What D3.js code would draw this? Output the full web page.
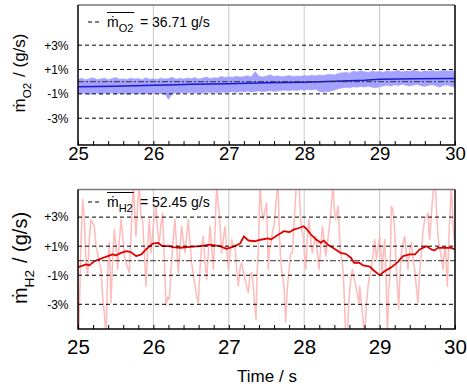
<!DOCTYPE html>
<html>
<head>
<meta charset="utf-8">
<script src="https://cdn.jsdelivr.net/npm/d3@7"></script>
<style>
  body { margin: 0; background: #fff; }
  svg { display: block; font-family: "Liberation Sans", Arial, "DejaVu Sans", sans-serif; }
</style>
</head>
<body>
<div id="chart"></div>
<script>
var width = 467, height = 388;
var left = 78, right = 455;

// axis stuff
var timeRange = [25, 30];
var gridTimes = [26, 27, 28, 29];
var pctLines = [3, 1, -1, -3];

// means shown in the legends (g/s)
var o2Mean = "36.71";
var h2Mean = "52.45";

// O2: smoothed signal (% deviation from mean)
var o2SmoothTime = [25, 25.5, 26, 26.2, 26.5, 27, 27.5, 28, 28.2, 28.5, 28.8, 29, 29.5, 30];
var o2SmoothPct  = [-0.42, -0.38, -0.3, -0.28, -0.22, -0.17, -0.08, -0.04, 0, 0.06, 0.12, 0.2, 0.24, 0.26];

// O2: raw signal envelope, one value every 0.05 s from 25 to 30
var o2BandStep = 0.05;
var o2BandUpper = [
  0.20, 0.28, 0.15, 0.25, 0.32, 0.18, 0.22, 0.30, 0.16, 0.26, 0.35, 0.20, 0.24, 0.18, 0.30, 0.22, 0.27, 0.17, 0.33, 0.21,
  0.24, 0.19, 0.30, 0.22, 0.26, 0.36, 0.20, 0.28, 0.23, 0.31, 0.25, 0.34, 0.22, 0.29, 0.38, 0.27, 0.33, 0.30, 0.42, 0.35,
  0.40, 0.36, 0.45, 0.38, 0.42, 0.48, 0.40, 0.84, 0.44, 0.39, 0.46, 0.57, 0.42, 0.48, 0.40, 0.45, 0.50, 0.43, 0.47, 0.44,
  0.50, 0.46, 0.53, 0.48, 0.55, 0.50, 0.58, 0.62, 0.55, 0.68, 0.72, 0.78, 0.70, 0.85, 0.80, 0.90, 0.82, 0.76, 0.88, 0.80,
  0.84, 0.78, 0.90, 0.82, 0.86, 0.92, 0.80, 0.88, 0.84, 0.94, 0.86, 0.80, 0.90, 0.85, 0.92, 0.83, 0.88, 0.95, 0.87, 0.90,
  0.86
];
var o2BandLower = [
  -0.95, -1.02, -0.90, -1.08, -0.97, -0.92, -1.05, -0.94, -1.00, -0.91, -1.03, -0.96, -0.93, -1.06, -0.98, -0.92, -1.01, -0.95, -0.99, -0.93,
  -0.97, -0.91, -1.00, -0.94, -1.46, -0.98, -0.90, -0.95, -0.88, -0.93, -0.86, -0.92, -0.89, -0.94, -0.85, -0.90, -0.87, -0.93, -0.84, -0.89,
  -0.86, -0.82, -0.88, -0.80, -0.85, -0.78, -0.84, -0.80, -0.76, -0.82, -0.78, -0.74, -0.80, -0.76, -0.72, -0.70, -0.75, -0.68, -0.73, -0.66,
  -0.70, -0.64, -0.68, -0.62, -0.80, -0.86, -0.83, -0.78, -0.70, -0.58, -0.52, -0.46, -0.50, -0.42, -0.45, -0.40, -0.44, -0.38, -0.46, -0.50,
  -0.42, -0.35, -0.30, -0.38, -0.26, -0.32, -0.22, -0.30, -0.36, -0.28, -0.24, -0.33, -0.40, -0.30, -0.25, -0.35, -0.45, -0.30, -0.28, -0.38,
  -0.46
];

// H2: raw signal (light red)
var h2RawTime = [
  25.000, 25.012, 25.035, 25.062, 25.084, 25.105, 25.128, 25.150, 25.172, 25.194, 25.217, 25.239, 25.261, 25.283, 25.305, 25.327,
  25.349, 25.371, 25.393, 25.415, 25.438, 25.460, 25.482, 25.504, 25.526, 25.548, 25.570, 25.592, 25.615, 25.648, 25.681, 25.705,
  25.734, 25.750, 25.769, 25.790, 25.813, 25.835, 25.857, 25.880, 25.902, 25.925, 25.946, 25.968, 26.000, 26.034, 26.056, 26.078,
  26.100, 26.123, 26.145, 26.167, 26.189, 26.211, 26.235, 26.256, 26.286, 26.330, 26.375, 26.419, 26.463, 26.507, 26.552, 26.575,
  26.596, 26.618, 26.640, 26.662, 26.684, 26.706, 26.728, 26.750, 26.772, 26.795, 26.817, 26.839, 26.857, 26.874, 26.905, 26.949,
  26.994, 27.038, 27.060, 27.082, 27.104, 27.126, 27.150, 27.170, 27.195, 27.215, 27.259, 27.281, 27.303, 27.325, 27.343, 27.360,
  27.375, 27.391, 27.414, 27.436, 27.458, 27.480, 27.502, 27.524, 27.540, 27.555, 27.578, 27.600, 27.625, 27.653, 27.670, 27.688,
  27.710, 27.732, 27.754, 27.775, 27.799, 27.820, 27.843, 27.870, 27.896, 27.931, 27.953, 27.970, 27.989, 28.005, 28.020, 28.042,
  28.064, 28.086, 28.108, 28.130, 28.152, 28.175, 28.196, 28.220, 28.241, 28.263, 28.285, 28.307, 28.329, 28.355, 28.382, 28.400,
  28.417, 28.448, 28.466, 28.484, 28.500, 28.519, 28.535, 28.550, 28.572, 28.590, 28.608, 28.625, 28.639, 28.660, 28.683, 28.705,
  28.727, 28.736, 28.758, 28.780, 28.802, 28.825, 28.847, 28.870, 28.891, 28.915, 28.935, 28.957, 28.980, 29.001, 29.020, 29.032,
  29.050, 29.068, 29.085, 29.103, 29.120, 29.134, 29.146, 29.156, 29.175, 29.191, 29.210, 29.222, 29.240, 29.253, 29.270, 29.289,
  29.310, 29.333, 29.355, 29.377, 29.400, 29.421, 29.445, 29.466, 29.490, 29.510, 29.530, 29.554, 29.575, 29.598, 29.620, 29.642,
  29.655, 29.665, 29.690, 29.709, 29.725, 29.740, 29.758, 29.775, 29.792, 29.810, 29.825, 29.841, 29.855, 29.872, 29.885, 29.899,
  29.915, 29.930, 29.952, 29.974, 30.000
];
var h2RawPct = [
  -1.74, -5.2, 0.5, 4.2, 3.0, 0.0, -1.05, 1.5, 2.83, 2.6, 2.37, 1.0, 0.5, -0.1, -0.6, -2.5,
  -3.57, -5.2, -1.0, 1.23, -2.88, 0.2, 2.14, 1.0, -0.6, 1.3, 2.83, 1.8, 0.32, -0.3, -0.83, 2.0,
  5.3, 3.5, 1.68, 3.8, 5.3, 3.0, 2.83, 0.5, -1.74, 1.0, 2.83, 0.54, 2.5, 3.74, 2.0, 1.23,
  2.5, 3.28, 0.0, -3.11, -2.5, -2.65, -0.5, 1.0, 2.83, -0.83, 2.37, 0.54, 2.83, -0.14, -1.74, -2.5,
  -2.88, -0.6, 1.0, 1.68, 0.0, -1.28, 0.5, 2.37, 1.0, -0.6, 2.0, 5.3, 4.0, 3.28, 0.54, 2.37,
  -0.6, 1.46, 1.0, 1.0, -0.5, -1.74, -0.5, -0.14, -0.8, -1.28, -2.2, -1.0, -0.83, -1.74, -3.0, -4.02,
  -1.0, 0.54, 5.3, 3.5, 2.83, 3.5, 3.97, -0.6, 1.0, 1.0, 2.0, 2.37, 4.0, 5.3, 2.0, 0.09,
  -1.0, -1.74, -4.25, -2.0, -0.6, 0.5, 0.54, 3.0, 5.3, 5.3, 2.83, 2.0, 1.68, 0.5, -0.6, 1.5,
  2.83, 1.5, 0.54, 1.2, 1.68, 0.5, -0.6, 1.0, 2.37, 1.5, 0.32, 1.2, 2.14, 3.5, 5.3, 3.5,
  2.83, 3.74, 2.0, 0.54, 0.0, -0.83, -3.0, -5.2, -5.2, -3.0, -1.74, -1.0, -0.6, -1.2, -1.74, -2.3,
  -2.88, -1.74, -2.88, -4.02, -5.2, -3.0, -1.74, -1.0, -0.6, 0.5, 1.46, 0.09, 1.0, 1.68, 0.5, -0.83,
  0.5, 1.46, -1.0, -5.2, -2.0, -1.28, 1.0, 3.74, 3.5, 2.83, 1.0, -0.6, -2.0, -3.34, -1.0, 0.54,
  1.2, 1.68, 0.5, -0.6, 0.8, 1.23, 0.0, -0.6, -2.0, -2.88, -1.0, 0.54, 2.0, 2.83, 3.0, 3.28,
  2.0, 1.46, 3.5, 4.65, 5.3, 5.3, 3.0, 1.68, 1.0, 0.54, 0.0, -0.6, 0.5, 1.0, -0.5, -1.74,
  1.0, 2.83, 5.3, 2.37, 1.0
];

// H2: smoothed signal (red)
var h2SmoothTime = [
  25.00, 25.11, 25.15, 25.22, 25.28, 25.37, 25.46, 25.50, 25.57, 25.64, 25.70, 25.77, 25.84, 25.90, 25.99, 26.06,
  26.12, 26.21, 26.26, 26.35, 26.49, 26.62, 26.75, 26.88, 26.97, 27.08, 27.15, 27.20, 27.26, 27.35, 27.44, 27.52,
  27.56, 27.64, 27.73, 27.80, 27.86, 27.93, 27.99, 28.02, 28.09, 28.15, 28.22, 28.26, 28.31, 28.40, 28.48, 28.55,
  28.62, 28.66, 28.73, 28.78, 28.87, 28.93, 29.00, 29.07, 29.16, 29.24, 29.31, 29.40, 29.47, 29.53, 29.62, 29.69,
  29.73, 29.77, 29.86, 29.95, 30.00
];
var h2SmoothPct = [
  -0.44, -0.26, -0.32, -0.03, 0.09, 0.27, 0.43, 0.36, 0.54, 0.66, 0.59, 0.32, 0.43, 0.77, 1.18, 1.23,
  1.0, 1.0, 0.93, 0.89, 0.95, 1.0, 1.11, 1.0, 0.82, 1.0, 1.18, 1.68, 1.39, 1.34, 1.46, 1.53,
  1.46, 1.73, 2.03, 1.96, 2.14, 2.25, 2.37, 2.25, 1.80, 1.50, 1.23, 1.39, 1.11, 0.82, 0.54, 0.47,
  0.20, -0.14, -0.14, -0.32, -0.41, -0.71, -0.99, -0.71, -0.44, -0.10, 0.32, 0.43, 0.43, 0.77, 1.0, 0.77,
  0.71, 0.88, 0.88, 0.88, 0.77
];

var svg = d3.select("#chart").append("svg")
    .attr("width", width)
    .attr("height", height);

var x = d3.scaleLinear().domain(timeRange).range([left, right]);
var minorTicks = d3.range(0, 26).map(i => 25 + i * 0.2);

var isWhole = function(d) { return Math.abs(d - Math.round(d)) < 1e-6; };

const buildPanel = function(cfg) {
    var g = svg.append("g");
    var y = d3.scaleLinear().domain(cfg.yDomain).range([cfg.bottom, cfg.top]);

    g.append("clipPath").attr("id", cfg.id + "-clip")
        .append("rect")
        .attr("x", left).attr("y", cfg.top)
        .attr("width", right - left).attr("height", cfg.bottom - cfg.top);

    // vertical grey grid
    g.selectAll(".vgrid").data(gridTimes).enter().append("line")
        .attr("x1", d => x(d)).attr("x2", d => x(d))
        .attr("y1", cfg.top).attr("y2", cfg.bottom)
        .attr("stroke", "#c8c8c8").attr("stroke-width", 1);

    var plot = g.append("g").attr("clip-path", "url(#" + cfg.id + "-clip)");
    cfg.drawRaw(plot, y);

    // dashed percent lines
    g.selectAll(".hgrid").data(pctLines).enter().append("line")
        .attr("x1", left).attr("x2", right)
        .attr("y1", d => y(d)).attr("y2", d => y(d))
        .attr("stroke", "#000").attr("stroke-width", 1)
        .attr("stroke-dasharray", "4,3");

    // mean line (0 %)
    g.append("line")
        .attr("x1", left).attr("x2", right)
        .attr("y1", y(0)).attr("y2", y(0))
        .attr("stroke", "#333").attr("stroke-width", 1)
        .attr("stroke-dasharray", "6,2,2,2");

    cfg.drawSmooth(plot, y);

    // frame
    g.append("line").attr("x1", left).attr("x2", right).attr("y1", cfg.top).attr("y2", cfg.top)
        .attr("stroke", "#777").attr("stroke-width", 1.5);
    g.append("path")
        .attr("d", "M" + left + "," + cfg.top + "V" + cfg.bottom + "H" + right + "V" + cfg.top)
        .attr("fill", "none").attr("stroke", "#000").attr("stroke-width", 1.5);

    // x axis
    var xAxis = g.append("g")
        .attr("transform", "translate(0," + cfg.bottom + ")")
        .call(d3.axisBottom(x)
            .tickValues(minorTicks)
            .tickSizeInner(-4)
            .tickSizeOuter(0)
            .tickPadding(cfg.xPad)
            .tickFormat(d => isWhole(d) ? d3.format("d")(Math.round(d)) : ""));
    xAxis.select(".domain").remove();
    xAxis.selectAll("line").attr("stroke", "#000");
    xAxis.selectAll("text")
        .attr("font-family", null)
        .attr("font-size", cfg.xFont)
        .attr("fill", "#000");

    // y axis labels
    var yAxis = g.append("g")
        .attr("transform", "translate(" + left + ",0)")
        .call(d3.axisLeft(y)
            .tickValues(pctLines)
            .tickSize(0)
            .tickPadding(9.5)
            .tickFormat(d => (d > 0 ? "+" : "-") + Math.abs(d) + "%"));
    yAxis.select(".domain").remove();
    yAxis.selectAll("text")
        .attr("font-family", null)
        .attr("font-size", 12)
        .attr("fill", "#000");

    // legend
    var lg = g.append("g");
    lg.append("line")
        .attr("x1", 88).attr("x2", 99)
        .attr("y1", cfg.legendY - 5).attr("y2", cfg.legendY - 5)
        .attr("stroke", "#000").attr("stroke-width", 1)
        .attr("stroke-dasharray", "4,3");
    var sym = lg.append("text")
        .attr("x", 107).attr("y", cfg.legendY)
        .attr("font-size", 14).attr("fill", "#000");
    sym.append("tspan").text("\u1E41");
    sym.append("tspan").attr("font-size", 11).attr("dy", 5).text(cfg.sub);
    var bb = sym.node().getBBox();
    lg.append("line")
        .attr("x1", bb.x).attr("x2", bb.x + bb.width + 1)
        .attr("y1", cfg.legendY - 14.5).attr("y2", cfg.legendY - 14.5)
        .attr("stroke", "#000").attr("stroke-width", 1);
    lg.append("text")
        .attr("x", 140).attr("y", cfg.legendY)
        .attr("font-size", 14).attr("fill", "#000")
        .text("= " + cfg.mean + " g/s");

    // y title
    var title = g.append("text")
        .attr("transform", "translate(" + cfg.titleX + "," + cfg.titleY + ") rotate(-90)")
        .attr("text-anchor", "middle")
        .attr("font-size", cfg.titleFont)
        .attr("fill", "#000");
    title.append("tspan").text("\u1E41");
    title.append("tspan").attr("font-size", cfg.titleFont * 0.68).attr("dy", cfg.titleFont * 0.33).text(cfg.sub);
    title.append("tspan").attr("dy", -cfg.titleFont * 0.33).attr("dx", cfg.titleFont * 0.35).text("/ (g/s)");
};

var line = function(y) {
    return d3.line().x(d => x(d[0])).y(d => y(d[1]));
};

buildPanel({
    id: "o2", top: 5, bottom: 145, yDomain: [-5.2, 6.3],
    xPad: 2, xFont: 18.5,
    legendY: 27, sub: "O2", mean: o2Mean,
    titleX: 25, titleY: 73, titleFont: 17,
    drawRaw: function(plot, y) {
        var band = o2BandUpper.map((u, i) => ({ t: 25 + i * o2BandStep, hi: u, lo: o2BandLower[i] }));
        plot.append("path")
            .datum(band)
            .attr("fill", "#a3a3ff")
            .attr("stroke", "#a3a3ff").attr("stroke-width", 0.6)
            .attr("d", d3.area().x(d => x(d.t)).y0(d => y(d.lo)).y1(d => y(d.hi)));
    },
    drawSmooth: function(plot, y) {
        plot.append("path")
            .datum(o2SmoothTime.map((t, i) => [t, o2SmoothPct[i]]))
            .attr("fill", "none").attr("stroke", "#1a1acc").attr("stroke-width", 1.5)
            .attr("d", line(y));
    }
});

buildPanel({
    id: "h2", top: 189.5, bottom: 329, yDomain: [-4.7, 4.9],
    xPad: 10, xFont: 20.5,
    legendY: 207, sub: "H2", mean: h2Mean,
    titleX: 27, titleY: 258, titleFont: 20,
    drawRaw: function(plot, y) {
        plot.append("path")
            .datum(h2RawTime.map((t, i) => [t, h2RawPct[i]]))
            .attr("fill", "none").attr("stroke", "#ffbaba").attr("stroke-width", 1.5)
            .attr("stroke-linejoin", "round")
            .attr("d", line(y));
    },
    drawSmooth: function(plot, y) {
        plot.append("path")
            .datum(h2SmoothTime.map((t, i) => [t, h2SmoothPct[i]]))
            .attr("fill", "none").attr("stroke", "#e00000").attr("stroke-width", 1.8)
            .attr("stroke-linejoin", "round")
            .attr("d", line(y));
    }
});

// x title
svg.append("text")
    .attr("x", 267).attr("y", 382)
    .attr("text-anchor", "middle")
    .attr("font-size", 17).attr("fill", "#000")
    .text("Time / s");
</script>
</body>
</html>
